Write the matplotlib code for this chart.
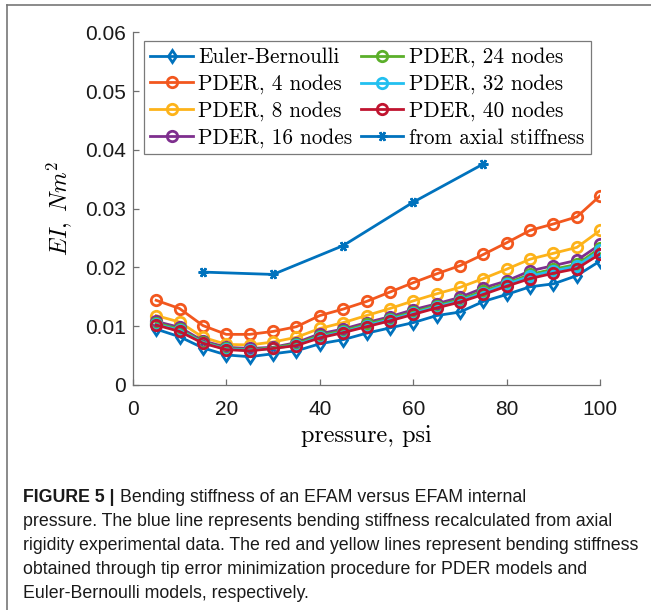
import matplotlib
matplotlib.use("Agg")
import matplotlib.pyplot as plt
from matplotlib.lines import Line2D

plt.rcParams["mathtext.fontset"] = "cm"
plt.rcParams["axes.unicode_minus"] = False

pressure = [5, 10, 15, 20, 25, 30, 35, 40, 45, 50, 55, 60, 65, 70, 75, 80, 85, 90, 95, 100]

ei_euler = [0.0095, 0.0082, 0.0063, 0.0051, 0.0048, 0.0053, 0.0058, 0.0070, 0.0077, 0.0088,
            0.0097, 0.0106, 0.0118, 0.0124, 0.0142, 0.0154, 0.0167, 0.0172, 0.0186, 0.0211]
ei_pder4 = [0.0144, 0.0130, 0.0101, 0.0086, 0.0086, 0.0091, 0.0099, 0.0118, 0.0129, 0.0142,
            0.0158, 0.0174, 0.0189, 0.0203, 0.0222, 0.0242, 0.0263, 0.0274, 0.0286, 0.0322]
ei_pder8 = [0.0118, 0.0107, 0.0081, 0.0069, 0.0068, 0.0073, 0.0081, 0.0096, 0.0106, 0.0118,
            0.0130, 0.0143, 0.0155, 0.0166, 0.0181, 0.0197, 0.0214, 0.0224, 0.0234, 0.0263]
ei_pder16 = [0.0108, 0.0098, 0.0075, 0.0064, 0.0062, 0.0064, 0.0072, 0.0087, 0.0095, 0.0106,
             0.0116, 0.0128, 0.0138, 0.0149, 0.0165, 0.0177, 0.0194, 0.0203, 0.0212, 0.0239]
ei_pder24 = [0.0105, 0.0095, 0.0073, 0.0062, 0.0060, 0.0063, 0.0070, 0.0084, 0.0092, 0.0103,
             0.0113, 0.0124, 0.0135, 0.0145, 0.0160, 0.0173, 0.0188, 0.0197, 0.0205, 0.0233]
ei_pder32 = [0.0103, 0.0093, 0.0072, 0.0061, 0.0059, 0.0062, 0.0068, 0.0082, 0.0090, 0.0101,
             0.0111, 0.0122, 0.0133, 0.0143, 0.0157, 0.0171, 0.0185, 0.0194, 0.0202, 0.0229]
ei_pder40 = [0.0102, 0.0091, 0.0071, 0.0060, 0.0058, 0.0062, 0.0067, 0.0080, 0.0089, 0.0099,
             0.0109, 0.0120, 0.0131, 0.0141, 0.0154, 0.0168, 0.0181, 0.0190, 0.0198, 0.0223]

axial_pressure = [15, 30, 45, 60, 75]
ei_axial = [0.0192, 0.0188, 0.0237, 0.0311, 0.0376]

x_ticks = [0, 20, 40, 60, 80, 100]
y_ticks = [0, 0.01, 0.02, 0.03, 0.04, 0.05, 0.06]
y_tick_labels = ["0", "0.01", "0.02", "0.03", "0.04", "0.05", "0.06"]

caption_head = "FIGURE 5 |"
caption_lines = [
    "Bending stiffness of an EFAM versus EFAM internal",
    "pressure. The blue line represents bending stiffness recalculated from axial",
    "rigidity experimental data. The red and yellow lines represent bending stiffness",
    "obtained through tip error minimization procedure for PDER models and",
    "Euler-Bernoulli models, respectively.",
]

fig = plt.figure(figsize=(6.51, 6.10), dpi=100)
ax = fig.add_axes([0.204, 0.369, 0.718, 0.578])

lw = 2.0
series = [
    (ei_euler, "Euler-Bernoulli", "#0072BD", "d", 6),
    (ei_pder4, "PDER, 4 nodes", "#F2571E", "o", 7.5),
    (ei_pder8, "PDER, 8 nodes", "#FDB31A", "o", 7.5),
    (ei_pder16, "PDER, 16 nodes", "#7E2F8E", "o", 7.5),
    (ei_pder24, "PDER, 24 nodes", "#5BAF2A", "o", 7.5),
    (ei_pder32, "PDER, 32 nodes", "#22C0F0", "o", 7.5),
    (ei_pder40, "PDER, 40 nodes", "#C0142F", "o", 7.5),
]
for vals, label, color, mk, ms in series:
    ax.plot(pressure, vals, color=color, lw=lw, marker=mk, ms=ms,
            mfc="none", mec=color, mew=2.0, label=label)
ax.plot(axial_pressure, ei_axial, color="#0072BD", lw=lw, marker=(6, 2, 90),
        ms=7, mew=1.8, label="from axial stiffness")

ax.set_xlim(0, 100)
ax.set_ylim(0, 0.06)
ax.set_xticks(x_ticks)
ax.set_yticks(y_ticks)
ax.set_yticklabels(y_tick_labels)
ax.spines["top"].set_visible(False)
ax.spines["right"].set_visible(False)
for s in ("left", "bottom"):
    ax.spines[s].set_color("#707070")
    ax.spines[s].set_linewidth(0.9)
ax.tick_params(direction="in", length=4, width=0.9, color="#707070",
               labelsize=15, labelcolor="#1a1a1a")
ax.tick_params(axis="x", pad=11)
ax.tick_params(axis="y", pad=5)
for lab in ax.get_xticklabels() + ax.get_yticklabels():
    lab.set_family("Liberation Sans")

ax.set_xlabel("pressure, psi", family="cmr10", fontsize=17.5, labelpad=4)
ax.set_ylabel(r"$EI,\;Nm^2$", fontsize=17)
ax.yaxis.set_label_coords(-0.126, 0.5)

# two-column legend, EB + 4/8/16 on the left, 24/32/40 + axial on the right
handles, labels = ax.get_legend_handles_labels()
leg = ax.legend(handles, labels, ncol=2, loc="upper left",
                bbox_to_anchor=(0.024, 0.975), prop={"family": "cmr10", "size": 15.3},
                handlelength=2.0, handletextpad=0.25, columnspacing=0.4,
                labelspacing=0.33, borderpad=0.3, fancybox=False, framealpha=1,
                edgecolor="#7a7a7a", borderaxespad=0)
leg.get_frame().set_linewidth(0.9)

# outer frame of the figure panel
fig.add_artist(Line2D([0.011, 1.0], [0.991, 0.991], color="#777777", lw=1.2,
                      transform=fig.transFigure))
fig.add_artist(Line2D([0.011, 0.011], [0.991, 0.0], color="#777777", lw=1.2,
                      transform=fig.transFigure))

# caption, sized so the longest line spans about 620 px
cap_family = "Liberation Sans"
probe = fig.text(0, 0, caption_lines[2], fontsize=10, family=cap_family)
fig.canvas.draw()
cap_size = 10 * 618 / probe.get_window_extent().width
probe.remove()

x0 = 23 / 651
y0 = 1 - 497 / 610
dy = 24 / 610
head = fig.text(x0, y0, caption_head, fontsize=cap_size, weight="bold",
                family=cap_family, color="#1a1a1a", va="center")
fig.canvas.draw()
x_after = head.get_window_extent().x1 / fig.bbox.width + 0.008
fig.text(x_after, y0, caption_lines[0], fontsize=cap_size, family=cap_family,
         color="#1a1a1a", va="center")
for i, line in enumerate(caption_lines[1:], start=1):
    fig.text(x0, y0 - i * dy, line, fontsize=cap_size, family=cap_family,
             color="#1a1a1a", va="center")

fig.savefig("out.png", dpi=100)
